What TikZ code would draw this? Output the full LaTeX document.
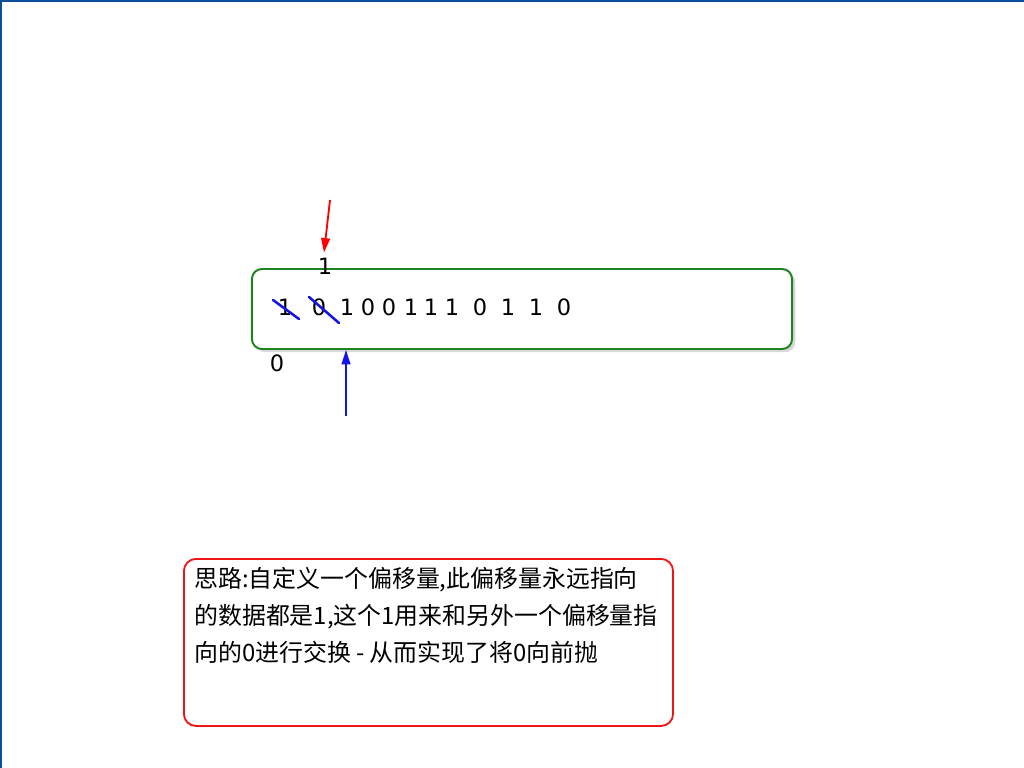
\documentclass[tikz,border=0pt]{standalone}
\usepackage{fontspec}
\setmainfont{DejaVu Sans}
\newfontfamily\cjk{Noto Sans CJK SC}
\usetikzlibrary{arrows.meta,positioning,calc,shadows}
\definecolor{boxgreen}{HTML}{1E841E}
\definecolor{notered}{HTML}{F01414}
\definecolor{markblue}{HTML}{1414E6}
\definecolor{edgeblue}{HTML}{0B4F9C}
\tikzset{
  arrbox/.style={draw=boxgreen,line width=1.4pt,rounded corners=0.25cm,fill=white,minimum width=13.5cm,minimum height=2cm,drop shadow={shadow xshift=0.08cm,shadow yshift=-0.08cm,opacity=0.3}},
  notebox/.style={draw=notered,line width=1.3pt,rounded corners=0.3cm,minimum width=12.225cm,minimum height=4.175cm,anchor=north west},
  digit/.style={font=\fontsize{16}{16}\selectfont,inner sep=0pt},
  strike/.style={draw=markblue,line width=1.8pt,line cap=round},
  redarr/.style={-{Triangle[length=3.6mm,width=2.2mm]},draw=red,line width=1.3pt},
  bluearr/.style={-{Triangle[length=3.6mm,width=2.2mm]},draw=markblue,line width=1.3pt}
}

\begin{document}
\begin{tikzpicture}[x=0.025cm,y=-0.025cm]
  \useasboundingbox (0,0) rectangle (1024,768);
  \fill[white] (0,0) rectangle (1024,768);
  \draw[edgeblue,line width=0.1cm] (0,768) -- (0,0) -- (1024,0);
  % the array
  \node[arrbox] (arr) at (522,309) {};
  \foreach \i/\x/\v in {1/285/1,2/319/0,3/347/1,4/368/0,5/389/0,6/411/1,7/431/1,8/452/1,9/480/0,10/508/1,11/536/1,12/564/0}{
    \node[digit] (d\i) at (\x,307) {\v};
  }
  \draw[strike] ($(d1)+(-12,-7)$) -- ($(d1)+(14,12)$);
  \draw[strike] ($(d2)+(-10,-10)$) -- ($(d2)+(20,16)$);
  % the two offsets
  \node[digit] (lab1) at (325,266) {1};
  \node[digit] (lab0) at (277,363) {0};
  \coordinate (ptop) at (330,200);
  \coordinate (pbot) at (346,416);
  \draw[redarr] (ptop) -- ($(lab1.north)+(-1,-5)$);
  \draw[bluearr] (pbot) -- (pbot |- arr.south);
  % the note
  \node[notebox] (note) at (183,558) {};
  \node[anchor=north west,inner sep=0pt,align=left,
    font=\cjk\fontsize{17}{26.4}\selectfont] (notetext) at (194,567)
    {思路:自定义一个偏移量,此偏移量永远指向\\的数据都是1,这个1用来和另外一个偏移量指\\向的0进行交换 - 从而实现了将0向前抛};
\end{tikzpicture}
\end{document}
